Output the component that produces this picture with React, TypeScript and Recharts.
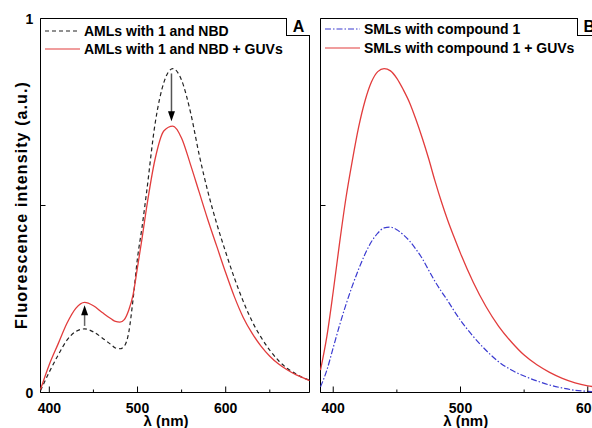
import {
  LineChart,
  Line,
  XAxis,
  YAxis,
  Legend,
  ReferenceArea,
  ReferenceLine,
  ReferenceDot,
} from "recharts";

// panel A: AMLs, wavelength (nm)
const wavelengthA = [
  390, 400, 410, 420, 430, 440, 450, 460, 470, 475, 480, 485, 490, 495, 500, 505,
  510, 520, 530, 540, 550, 560, 570, 580, 590, 600, 610, 620, 630, 640, 650, 660,
  670, 680, 690, 695,
];
const amlNbd = [
  0.005, 0.055, 0.1, 0.14, 0.163, 0.17, 0.162, 0.146, 0.128, 0.119, 0.117, 0.124,
  0.16, 0.25, 0.36, 0.44, 0.53, 0.72, 0.83, 0.866, 0.835, 0.75, 0.635, 0.535, 0.45,
  0.375, 0.305, 0.243, 0.19, 0.148, 0.113, 0.085, 0.064, 0.049, 0.037, 0.033,
];
const amlNbdGuv = [
  0.008, 0.075, 0.13, 0.185, 0.225, 0.241, 0.232, 0.214, 0.197, 0.19, 0.188, 0.195,
  0.22, 0.262, 0.335, 0.41, 0.49, 0.625, 0.7, 0.712, 0.68, 0.61, 0.535, 0.46, 0.39,
  0.32, 0.255, 0.2, 0.158, 0.124, 0.097, 0.076, 0.06, 0.047, 0.037, 0.032,
];

// panel B: SMLs
const wavelengthB = [
  390, 395, 400, 405, 410, 415, 420, 425, 430, 435, 440, 445, 450, 455, 460, 465,
  470, 475, 480, 485, 490, 495, 500, 510, 520, 530, 540, 550, 560, 570, 580, 590,
  600, 610,
];
const smlCmp = [
  0.015, 0.06, 0.12, 0.18, 0.235, 0.285, 0.33, 0.37, 0.403, 0.426, 0.44, 0.442,
  0.435, 0.422, 0.405, 0.383, 0.358, 0.327, 0.297, 0.27, 0.245, 0.218, 0.193, 0.15,
  0.113, 0.082, 0.06, 0.044, 0.031, 0.02, 0.012, 0.006, 0.003, 0.001,
];
const smlCmpGuv = [
  0.06, 0.15, 0.27, 0.4, 0.52, 0.62, 0.71, 0.78, 0.83, 0.858, 0.866, 0.86, 0.84,
  0.81, 0.775, 0.73, 0.68, 0.625, 0.565, 0.51, 0.46, 0.415, 0.372, 0.295, 0.23,
  0.177, 0.135, 0.1, 0.074, 0.054, 0.038, 0.026, 0.018, 0.013,
];

const ticksA = [400, 450, 500, 550, 600, 650];
const ticksB = [400, 450, 500, 550, 600];
const majorTicks = [400, 500, 600];
const yTicks = [0, 0.5, 1];
const yLabelled = [0, 1];

// arrows in panel A: [wavelength, from, to]
const arrowUp = [440, 0.178, 0.233];
const arrowDown = [538.5, 0.853, 0.725];

const dataA = wavelengthA.map((w, i) => ({ w, dark: amlNbd[i], guv: amlNbdGuv[i] }));
const dataB = wavelengthB.map((w, i) => ({ w, dark: smlCmp[i], guv: smlCmpGuv[i] }));

const FONT = "'Liberation Sans', Arial, sans-serif";
const RED = "#e23c3c";
const BLUE = "#3a3ad0";

function XTick(props: any) {
  const { x, y, payload } = props;
  const major = majorTicks.includes(payload.value);
  return (
    <g>
      <line x1={x} x2={x} y1={y} y2={y - (major ? 6 : 3)} stroke="#000" />
      {major && (
        <text x={x} y={y + 20} textAnchor="middle" fontSize={14} fontWeight="bold" fill="#000" fontFamily={FONT}>
          {payload.value}
        </text>
      )}
    </g>
  );
}

function makeYTick(labels: boolean) {
  return (props: any) => {
    const { x, y, payload } = props;
    const show = labels && yLabelled.includes(payload.value);
    return (
      <g>
        <line x1={x} x2={x + 5} y1={y} y2={y} stroke="#000" />
        {show && (
          <text x={x - 11} y={y + 5} textAnchor="middle" fontSize={14} fontWeight="bold" fill="#000" fontFamily={FONT}>
            {payload.value}
          </text>
        )}
      </g>
    );
  };
}

function LegendBox({ payload }: any) {
  return (
    <div style={{ fontFamily: FONT, fontWeight: "bold", fontSize: 14, color: "#000" }}>
      {(payload || []).map((p: any) => (
        <div key={p.value} style={{ display: "flex", alignItems: "center", height: 18.6 }}>
          <svg width={35} height={4} style={{ marginRight: 4 }}>
            <line x1={0} x2={35} y1={2} y2={2} stroke={p.color} strokeWidth={1.2} strokeDasharray={p.payload?.strokeDasharray} />
          </svg>
          <span style={{ whiteSpace: "nowrap" }}>{p.value}</span>
        </div>
      ))}
    </div>
  );
}

const upHead = (props: any) => (
  <path d={`M${props.cx},${props.cy} l-3.5,10 l7,0 z`} fill="#000" />
);
const downHead = (props: any) => (
  <path d={`M${props.cx},${props.cy} l-3.5,-10 l7,0 z`} fill="#000" />
);

const panelTag = (left: number): React.CSSProperties => ({
  position: "absolute",
  left,
  top: 18,
  width: 23,
  height: 17,
  border: "1px solid #000",
  borderTop: "none",
  borderRight: "none",
  fontFamily: FONT,
  fontWeight: "bold",
  fontSize: 16,
  lineHeight: "17px",
  textAlign: "center",
  background: "#fff",
});

export default function App() {
  return (
    <div
      style={{
        position: "absolute",
        left: 0,
        top: 0,
        width: 592,
        height: 428,
        overflow: "hidden",
        background: "#fff",
        fontFamily: FONT,
      }}
    >
      <div style={{ position: "absolute", left: 0, top: 0 }}>
        <LineChart width={320} height={428} data={dataA} margin={{ top: 18.5, right: 10.5, bottom: 0, left: 0 }}>
          <XAxis
            type="number"
            dataKey="w"
            domain={[390, 695]}
            ticks={ticksA}
            interval={0}
            tickSize={0}
            tickMargin={0}
            axisLine={false}
            tickLine={false}
            height={35.5}
            tick={XTick}
            label={{
              content: () => (
                <text x={166} y={426} textAnchor="middle" fontSize={15} fontWeight="bold" fontFamily={FONT} fill="#000">
                  λ (nm)
                </text>
              ),
            }}
          />
          <YAxis
            type="number"
            domain={[0, 1]}
            ticks={yTicks}
            interval={0}
            tickSize={0}
            tickMargin={0}
            axisLine={false}
            tickLine={false}
            width={40.5}
            tick={makeYTick(true)}
            label={{
              content: () => (
                <text
                  x={21}
                  y={205}
                  transform="rotate(-90 21 205)"
                  textAnchor="middle"
                  dominantBaseline="central"
                  fontSize={16}
                  letterSpacing={1.1}
                  fontWeight="bold"
                  fontFamily={FONT}
                  fill="#000"
                >
                  Fluorescence intensity (a.u.)
                </text>
              ),
            }}
          />
          <ReferenceArea x1={390} x2={695} y1={0} y2={1} fill="none" stroke="#000" strokeWidth={1} fillOpacity={0} />
          <Line
            name="AMLs with 1 and NBD"
            type="monotone"
            dataKey="dark"
            stroke="#222"
            strokeWidth={1.2}
            strokeDasharray="4 3"
            dot={false}
            isAnimationActive={false}
          />
          <Line
            name="AMLs with 1 and NBD + GUVs"
            type="monotone"
            dataKey="guv"
            stroke={RED}
            strokeWidth={1.3}
            dot={false}
            isAnimationActive={false}
          />
          <ReferenceLine
            segment={[
              { x: arrowUp[0], y: arrowUp[1] },
              { x: arrowUp[0], y: arrowUp[2] - 0.02 },
            ]}
            stroke="#666"
            strokeWidth={1.5}
          />
          <ReferenceDot x={arrowUp[0]} y={arrowUp[2]} shape={upHead} />
          <ReferenceLine
            segment={[
              { x: arrowDown[0], y: arrowDown[1] },
              { x: arrowDown[0], y: arrowDown[2] + 0.02 },
            ]}
            stroke="#555"
            strokeWidth={1.5}
          />
          <ReferenceDot x={arrowDown[0]} y={arrowDown[2]} shape={downHead} />
          <Legend
            layout="vertical"
            align="center"
            verticalAlign="middle"
            content={LegendBox}
            wrapperStyle={{ left: 45, top: 21.4, width: 270 }}
          />
        </LineChart>
        <div style={panelTag(286)}>A</div>
      </div>

      <div style={{ position: "absolute", left: 300, top: 0 }}>
        <LineChart width={320} height={428} data={dataB} margin={{ top: 18.5, right: 19.5, bottom: 0, left: 0 }}>
          <XAxis
            type="number"
            dataKey="w"
            domain={[390, 610]}
            ticks={ticksB}
            interval={0}
            tickSize={0}
            tickMargin={0}
            axisLine={false}
            tickLine={false}
            height={35.5}
            tick={XTick}
            label={{
              content: () => (
                <text x={165.7} y={426} textAnchor="middle" fontSize={15} fontWeight="bold" fontFamily={FONT} fill="#000">
                  λ (nm)
                </text>
              ),
            }}
          />
          <YAxis
            type="number"
            domain={[0, 1]}
            ticks={yTicks}
            interval={0}
            tickSize={0}
            tickMargin={0}
            axisLine={false}
            tickLine={false}
            width={20.5}
            tick={makeYTick(false)}
          />
          <ReferenceArea x1={390} x2={610} y1={0} y2={1} fill="none" stroke="#000" strokeWidth={1} fillOpacity={0} />
          <Line
            name="SMLs with compound 1"
            type="monotone"
            dataKey="dark"
            stroke={BLUE}
            strokeWidth={1.2}
            strokeDasharray="6 2 1.5 2"
            dot={false}
            isAnimationActive={false}
          />
          <Line
            name="SMLs with compound 1 + GUVs"
            type="monotone"
            dataKey="guv"
            stroke={RED}
            strokeWidth={1.3}
            dot={false}
            isAnimationActive={false}
          />
          <Legend
            layout="vertical"
            align="center"
            verticalAlign="middle"
            content={LegendBox}
            wrapperStyle={{ left: 25, top: 20, width: 270 }}
          />
        </LineChart>
        <div style={panelTag(276.7)}>B</div>
      </div>
    </div>
  );
}
